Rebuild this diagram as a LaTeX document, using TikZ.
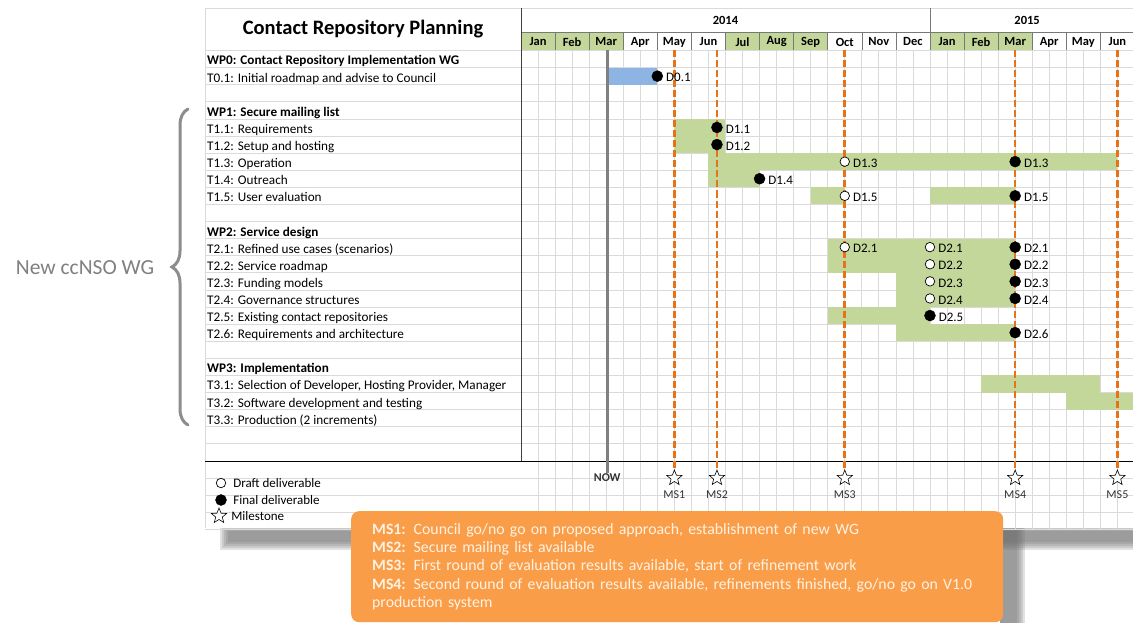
\documentclass[tikz,border=0pt]{standalone}
\usepackage{fontspec}
\setmainfont{Carlito}
\usetikzlibrary{positioning,shapes.geometric,decorations.pathreplacing}

\definecolor{barGreen}{RGB}{196,215,155}
\definecolor{barBlue}{RGB}{141,180,226}
\definecolor{msOrange}{RGB}{232,114,22}
\definecolor{gridGray}{RGB}{218,218,218}
\definecolor{headGray}{RGB}{120,120,120}
\definecolor{nowGray}{RGB}{128,128,128}
\definecolor{noteOrange}{RGB}{250,157,72}
\definecolor{noteText}{RGB}{255,242,228}
\definecolor{shadowGray}{RGB}{110,110,110}

\tikzset{
  draft/.style={circle,draw=black,fill=white,line width=0.7pt,minimum size=9.5pt,inner sep=0pt},
  final/.style={circle,draw=black,fill=black,minimum size=11pt,inner sep=0pt},
  dlabel/.style={inner sep=1pt,font=\fontsize{13}{15}\selectfont},
  task/.style={anchor=base west,inner sep=2pt,font=\fontsize{13.2}{15}\selectfont},
  month/.style={font=\bfseries\fontsize{12.5}{14}\selectfont},
  mslabel/.style={inner sep=1pt,text=black!80,font=\fontsize{12}{14}\selectfont},
  milestone/.style={star,star points=5,star point ratio=2.3,draw=black,fill=white,
    line width=0.6pt,minimum size=16pt,inner sep=0pt},
  msline/.style={msOrange,line width=2.6pt,dash pattern=on 7pt off 3pt},
  nowline/.style={nowGray,line width=2.6pt},
  headline/.style={headGray,line width=0.6pt}
}

\begin{document}
\begin{tikzpicture}[x=1pt,y=-1pt]
\useasboundingbox (0,0) rectangle (1133,623);
\fill[white] (0,0) rectangle (1133,623);

% soft shadow under the table and the note
\foreach \d in {0,2,...,8} {
  \fill[shadowGray,opacity=0.2] (220+\d,527+\d/2) rectangle (1133,550-\d);
  \fill[shadowGray,opacity=0.2] (1000,527+\d/2) rectangle (1025-\d,623);
}
\fill[white] (205,8) rectangle (1133,528);

% rows
\foreach \i in {0,...,28}
  \draw[gridGray,line width=0.7pt] (205,{50.5+17.1*\i}) -- (1133,{50.5+17.1*\i});
\draw[gridGray,line width=0.7pt] (205,8) -- (1133,8);
\draw[gridGray,line width=0.7pt] (205,8) -- (205,528);

\node[font=\bfseries\fontsize{20.5}{24}\selectfont] (title) at (363,29) {Contact Repository Planning};

\foreach \i/\txt in {0/{WP0: Contact Repository Implementation WG},3/{WP1: Secure mailing list},
    10/{WP2: Service design},18/{WP3: Implementation}}
  \node[task,font=\bfseries\fontsize{13.2}{15}\selectfont] (wp\i) at (205,{65+17.1*\i}) {\txt};
\foreach \i/\txt in {1/{T0.1: Initial roadmap and advise to Council},
    4/{T1.1: Requirements},5/{T1.2: Setup and hosting},6/{T1.3: Operation},
    7/{T1.4: Outreach},8/{T1.5: User evaluation},
    11/{T2.1: Refined use cases (scenarios)},12/{T2.2: Service roadmap},
    13/{T2.3: Funding models},14/{T2.4: Governance structures},
    15/{T2.5: Existing contact repositories},16/{T2.6: Requirements and architecture},
    19/{T3.1: Selection of Developer, Hosting Provider, Manager},
    20/{T3.2: Software development and testing},21/{T3.3: Production (2 increments)}}
  \node[task] (t\i) at (205,{65+17.1*\i}) {\txt};

% chart, one unit = one month / one row
\begin{scope}[shift={(521,50.5)},x=34.08pt,y=-17.1pt]
  \coordinate (top) at (0,0);
  \foreach \m in {0,1,2,6,7,8,12,13,14}
    \fill[barGreen] (\m,-1.07) rectangle ++(1,1.07);
  \foreach \mname [count=\k from 0] in {Jan,Feb,Mar,Apr,May,Jun,Jul,Aug,Sep,Oct,Nov,Dec,
      Jan,Feb,Mar,Apr,May,Jun}
    \node[month] (m\k) at (\k+0.5,-0.5) {\mname};
  \node[month] (y2014) at (6,-1.78) {2014};
  \node[month] (y2015) at (14.85,-1.78) {2015};

  \foreach \m in {0.5,1,...,18}
    \draw[gridGray,line width=0.7pt] (\m,0) -- (\m,28);

  % bars
  \fill[barBlue] (2.53,1) rectangle (4,2);
  \fill[barGreen] (4.5,4) rectangle (6,6);
  \fill[barGreen] (5.5,6) rectangle (17.5,7);
  \fill[barGreen] (5.5,7) rectangle (7,8);
  \fill[barGreen] (8.5,8) rectangle (9.5,9);
  \fill[barGreen] (12,8) rectangle (14.5,9);
  \fill[barGreen] (9,11) rectangle (14.5,13);
  \fill[barGreen] (11,13) rectangle (14.5,15);
  \fill[barGreen] (9,15) rectangle (12,16);
  \fill[barGreen] (11,16) rectangle (14.5,17);
  \fill[barGreen] (13.5,19) rectangle (17,20);
  \fill[barGreen] (16,20) rectangle (18,21);

  % header lines
  \draw[headline] (0,-1.07) -- (18,-1.07);
  \foreach \m in {1,...,17}
    \draw[headline] (\m,-1.07) -- (\m,0);
  \draw[headline] (12,-2.49) -- (12,0);
  \draw[black!75,line width=1pt] (0,-2.49) -- (0,24);
  \draw[black,line width=0.8pt] (-9.27,24) -- (18,24);

  % now and milestones
  \node[mslabel,font=\bfseries\fontsize{12}{14}\selectfont] (now) at (2.53,25) {NOW};
  \draw[nowline] (now |- top) -- (now.north);
  \foreach \k/\m in {1/4.5,2/5.75,3/9.5,4/14.5,5/17.5} {
    \node[milestone] (ms\k) at (\m,25) {};
    \node[mslabel] (msl\k) at (\m,25.95) {MS\k};
    \draw[msline] (ms\k |- top) -- (ms\k.north);
  }

  % deliverables
  \foreach \dname/\m/\r/\kind [count=\c] in {D0.1/4/1/final,D1.1/5.75/4/final,
      D1.2/5.75/5/final,D1.3/9.5/6/draft,D1.3/14.5/6/final,D1.4/7/7/final,
      D1.5/9.5/8/draft,D1.5/14.5/8/final,D2.1/9.5/11/draft,D2.1/12/11/draft,
      D2.1/14.5/11/final,D2.2/12/12/draft,D2.2/14.5/12/final,D2.3/12/13/draft,
      D2.3/14.5/13/final,D2.4/12/14/draft,D2.4/14.5/14/final,D2.5/12/15/final,
      D2.6/14.5/16/final} {
    \node[\kind] (dm\c) at (\m,\r+0.5) {};
    \node[dlabel,right=2pt of dm\c,yshift=-1.5pt] (dl\c) {\dname};
  }
\end{scope}

% legend
\node[draft] (lg1) at (221,483) {};
\node[dlabel,right=6pt of lg1] (lgt1) {Draft deliverable};
\node[final] (lg2) at (221,500) {};
\node[dlabel,right=5.5pt of lg2] (lgt2) {Final deliverable};
\node[milestone] (lg3) at (219,516) {};
\node[dlabel,right=6pt of lg3] (lgt3) {Milestone};

% working group brace
\draw[nowGray!90,line width=3pt,line cap=round,
  decorate,decoration={brace,amplitude=16pt}] (188,425) -- (188,109);
\node[text=nowGray,font=\fontsize{21.5}{24}\selectfont] (wg) at (85,268) {New ccNSO WG};

% milestone notes
\node[anchor=north west,fill=noteOrange,rounded corners=8pt,minimum width=652pt,
  minimum height=111pt,text width=610pt,align=left,inner xsep=21pt,text=noteText,
  font=\fontsize{15.8}{18.3}\selectfont] (notes) at (351,511)
  {\textbf{MS1:} Council go/no go on proposed approach, establishment of new WG\\
   \textbf{MS2:} Secure mailing list available\\
   \textbf{MS3:} First round of evaluation results available, start of refinement work\\
   \textbf{MS4:} Second round of evaluation results available, refinements finished, go/no go on V1.0\\
   production system};
\end{tikzpicture}
\end{document}
